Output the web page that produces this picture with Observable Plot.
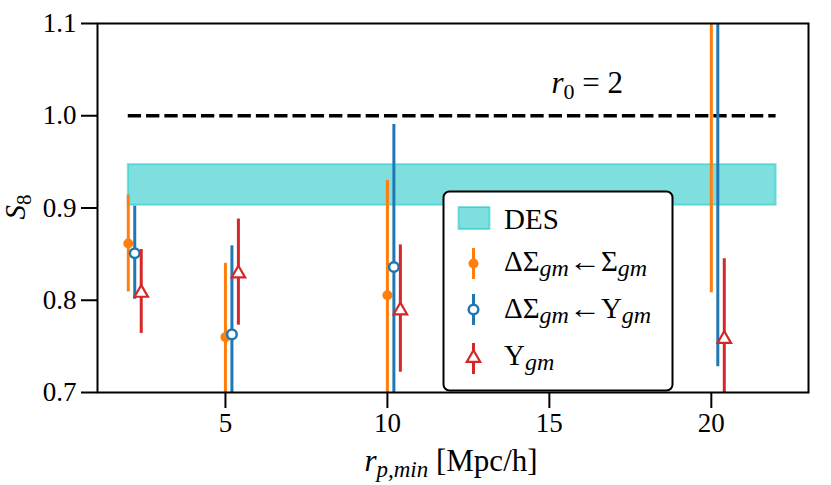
<!DOCTYPE html>
<html>
<head>
<meta charset="utf-8">
<script src="https://cdn.jsdelivr.net/npm/d3@7"></script>
<script src="https://cdn.jsdelivr.net/npm/@observablehq/plot@0.6"></script>
<style>
  html, body { margin: 0; padding: 0; background: white; }
  #chart { width: 831px; height: 485px; }
</style>
</head>
<body>
<div id="chart"></div>
<script>
// ---- data ----
const rpMin = [2, 5, 10, 20];
// ΔΣ_gm ← Σ_gm (orange)
const sigmaMid = [0.8615, 0.760, 0.8055, 1.25];
const sigmaLo  = [0.809, 0.660, 0.660, 0.808];
const sigmaHi  = [0.914, 0.840, 0.930, 1.70];
// ΔΣ_gm ← Y_gm (blue)
const upsMid = [0.851, 0.763, 0.836, 1.28];
const upsLo  = [0.801, 0.660, 0.660, 0.728];
const upsHi  = [0.902, 0.859, 0.9905, 1.85];
// Y_gm (red)
const ygmMid = [0.808, 0.829, 0.789, 0.758];
const ygmLo  = [0.764, 0.773, 0.722, 0.660];
const ygmHi  = [0.855, 0.888, 0.860, 0.845];
// DES band
const desBand = [{x1: 2, x2: 22, y1: 0.903, y2: 0.947}];
// r0 = 2 reference line
const refLine = [{y: 1.0, x1: 2, x2: 22}];
const xTicks = [5, 10, 15, 20];
const yTicks = [0.7, 0.8, 0.9, 1.0, 1.1];

const ORANGE = "#ff7f0e", BLUE = "#1f77b4", RED = "#d62728", CYAN = "#00bfbf";
const FONT = "'Liberation Serif', 'DejaVu Serif', serif";

const mk = (mid, lo, hi, shift) => rpMin.map((r, i) => ({x: r + shift, y: mid[i], lo: lo[i], hi: hi[i]}));
const sData = mk(sigmaMid, sigmaLo, sigmaHi, 0);
const uData = mk(upsMid, upsLo, upsHi, 0.2);
const yData = mk(ygmMid, ygmLo, ygmHi, 0.4);

const plot = Plot.plot({
  width: 831,
  height: 485,
  marginLeft: 97,
  marginRight: 23,
  marginTop: 23,
  marginBottom: 93,
  style: {fontFamily: FONT, fontSize: "27px", background: "white", color: "black"},
  x: {domain: [1.05, 23]},
  y: {domain: [0.7, 1.1]},
  marks: [
    Plot.rect(desBand, {x1: "x1", x2: "x2", y1: "y1", y2: "y2", fill: CYAN, fillOpacity: 0.5, stroke: CYAN, strokeOpacity: 0.45, strokeWidth: 2}),
    Plot.ruleY(refLine, {y: "y", x1: "x1", x2: "x2", stroke: "black", strokeWidth: 3.6, strokeDasharray: "13.3,5"}),
    Plot.text([{x: 16.17, y: 1.035}], {x: "x", y: "y", text: () => "r0 = 2", className: "r0label", fontSize: 31}),
    Plot.ruleX(sData, {x: "x", y1: "lo", y2: "hi", stroke: ORANGE, strokeWidth: 3, clip: true}),
    Plot.dot(sData, {x: "x", y: "y", r: 5, fill: ORANGE, stroke: "none", clip: true}),
    Plot.ruleX(uData, {x: "x", y1: "lo", y2: "hi", stroke: BLUE, strokeWidth: 3, clip: true}),
    Plot.dot(uData, {x: "x", y: "y", r: 4.8, fill: "white", stroke: BLUE, strokeWidth: 2.5, clip: true}),
    Plot.ruleX(yData, {x: "x", y1: "lo", y2: "hi", stroke: RED, strokeWidth: 3, clip: true}),
    Plot.dot(yData, {x: "x", y: "y", r: 5, symbol: "triangle", fill: "white", stroke: RED, strokeWidth: 2.2, clip: true}),
    Plot.axisX({ticks: xTicks, tickSize: 16, tickPadding: 4, strokeWidth: 2, label: null, fontSize: 27}),
    Plot.axisY({ticks: yTicks, tickFormat: d3.format(".1f"), tickSize: 16, tickPadding: 5, strokeWidth: 2, label: null, fontSize: 27}),
    Plot.frame({stroke: "black", strokeWidth: 2})
  ]
});
document.getElementById("chart").appendChild(plot);

const svg = d3.select(plot);
svg.selectAll("text").attr("font-family", FONT);

// rich text helper: parts = [{t, italic, sub, size, len}]
function rich(textSel, parts, baseSize) {
  textSel.text(null);
  let shifted = 0;
  parts.forEach(p => {
    const ts = textSel.append("tspan").text(p.t);
    if (p.italic) ts.attr("font-style", "italic");
    const target = p.sub ? p.sub : 0;
    if (target !== shifted) { ts.attr("dy", target - shifted); shifted = target; }
    ts.attr("font-size", p.size || baseSize);
    if (p.len) ts.attr("textLength", p.len).attr("lengthAdjust", "spacingAndGlyphs");
  });
}

// r0 = 2 label
svg.selectAll(".r0label text").each(function() {
  rich(d3.select(this), [
    {t: "r", italic: true},
    {t: "0", sub: 6, size: 22},
    {t: " = 2", sub: 0}
  ], 31);
});

// axis labels
const xl = svg.append("text").attr("x", 451).attr("y", 471).attr("text-anchor", "middle")
  .attr("font-family", FONT).attr("font-size", 31).attr("fill", "black");
rich(xl, [
  {t: "r", italic: true},
  {t: "p,min", italic: true, sub: 6, size: 23},
  {t: " [Mpc/h]", sub: 0}
], 31);

const yl = svg.append("text").attr("transform", "translate(25,207) rotate(-90)").attr("text-anchor", "middle")
  .attr("font-family", FONT).attr("font-size", 29).attr("fill", "black");
rich(yl, [
  {t: "S", italic: true},
  {t: "8", sub: 6, size: 21}
], 29);

// legend
const lg = svg.append("g").attr("font-family", FONT).attr("font-size", 29).attr("text-anchor", "start");
lg.append("rect").attr("x", 443.5).attr("y", 191.5).attr("width", 229).attr("height", 199)
  .attr("rx", 6).attr("fill", "white").attr("stroke", "black").attr("stroke-width", 2);
lg.append("rect").attr("x", 458.5).attr("y", 207).attr("width", 31).attr("height", 22)
  .attr("fill", CYAN).attr("fill-opacity", 0.5).attr("stroke", CYAN).attr("stroke-opacity", 0.45).attr("stroke-width", 2);
const ix = 473.5;
// orange
lg.append("line").attr("x1", ix).attr("x2", ix).attr("y1", 248).attr("y2", 279).attr("stroke", ORANGE).attr("stroke-width", 3);
lg.append("circle").attr("cx", ix).attr("cy", 263.5).attr("r", 5).attr("fill", ORANGE);
// blue
lg.append("line").attr("x1", ix).attr("x2", ix).attr("y1", 294).attr("y2", 325).attr("stroke", BLUE).attr("stroke-width", 3);
lg.append("circle").attr("cx", ix).attr("cy", 309.5).attr("r", 4.8).attr("fill", "white").attr("stroke", BLUE).attr("stroke-width", 2.5);
// red
lg.append("line").attr("x1", ix).attr("x2", ix).attr("y1", 343).attr("y2", 374).attr("stroke", RED).attr("stroke-width", 3);
lg.append("path").attr("transform", `translate(${ix},358)`).attr("d", d3.symbol(d3.symbolTriangle, Math.PI * 25)())
  .attr("fill", "white").attr("stroke", RED).attr("stroke-width", 2.2);

const tx = 504;
lg.append("text").attr("x", tx).attr("y", 229).text("DES");
rich(lg.append("text").attr("x", tx).attr("y", 271), [
  {t: "ΔΣ"}, {t: "gm", italic: true, sub: 5, size: 24}, {t: "←", sub: 0, len: 32}, {t: "Σ"}, {t: "gm", italic: true, sub: 5, size: 24}
], 29);
rich(lg.append("text").attr("x", tx).attr("y", 318), [
  {t: "ΔΣ"}, {t: "gm", italic: true, sub: 5, size: 24}, {t: "←", sub: 0, len: 32}, {t: "Υ"}, {t: "gm", italic: true, sub: 5, size: 24}
], 29);
rich(lg.append("text").attr("x", tx).attr("y", 365), [
  {t: "Υ"}, {t: "gm", italic: true, sub: 5, size: 24}
], 29);
</script>
</body>
</html>
